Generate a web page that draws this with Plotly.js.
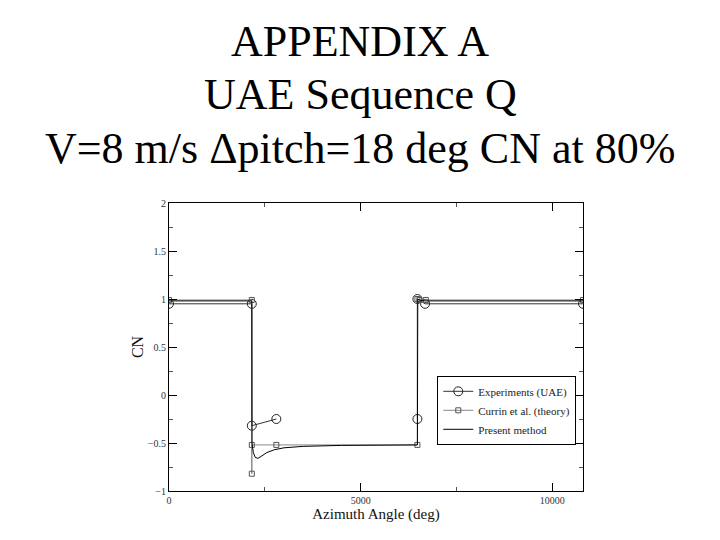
<!DOCTYPE html>
<html>
<head>
<meta charset="utf-8">
<script src="https://cdn.plot.ly/plotly-3.0.1.min.js"></script>
<style>
  html, body { margin: 0; padding: 0; background: #fff; }
  #chart { width: 720px; height: 540px; }
</style>
</head>
<body>
<div id="chart"></div>
<script>
// Experiments (UAE) - gap between the two branches
var expX = [0, 2160, 2160, 2800, null, 6480, 6480, 6680, 10800];
var expY = [0.95, 0.95, -0.32, -0.25, null, -0.25, 1.0, 0.95, 0.95];

// Currin et al. (theory)
var curX = [0, 2160, 2160, 2160, 2800, 6480, 6480, 6530, 6700, 10800];
var curY = [0.99, 0.99, -0.82, -0.52, -0.52, -0.52, 1.0, 0.99, 0.99, 0.99];

// Present method
var presX = [0, 2160, 2165, 2200, 2250, 2320, 2400, 2550, 2750, 3000, 3500, 4500, 6480, 6490, 6560, 6700, 10800];
var presY = [0.98, 0.98, -0.5, -0.6, -0.65, -0.66, -0.64, -0.6, -0.57, -0.55, -0.535, -0.525, -0.52, 1.0, 0.985, 0.98, 0.98];

var titleLines = ['APPENDIX A', 'UAE Sequence Q', 'V=8 m/s \u0394pitch=18 deg CN at 80%'];
var titleY = [1.5605, 1.3757, 1.1894];

var serif = "'Liberation Serif', 'Times New Roman', Times, serif";

var traces = [
    {
        x: expX, y: expY, name: 'Experiments (UAE)',
        mode: 'lines+markers',
        connectgaps: false,
        line: {color: '#333333', width: 1},
        marker: {symbol: 'circle-open', size: 9, color: '#222222', line: {width: 1}}
    },
    {
        x: curX, y: curY, name: 'Currin et al. (theory)',
        mode: 'lines+markers',
        line: {color: '#888888', width: 1},
        marker: {symbol: 'square-open', size: 5, color: '#555555', line: {width: 1}}
    },
    {
        x: presX, y: presY, name: 'Present method',
        mode: 'lines',
        line: {color: '#000000', width: 1}
    }
];

var annotations = titleLines.map(function (t, i) {
    return {
        text: t, showarrow: false,
        xref: 'paper', yref: 'paper',
        x: 0.4615, y: titleY[i], xanchor: 'center', yanchor: 'middle',
        font: {family: serif, size: 44, color: '#000'}
    };
});

var layout = {
    width: 720, height: 540,
    paper_bgcolor: '#ffffff', plot_bgcolor: '#ffffff',
    margin: {l: 169, r: 137, t: 203, b: 49},
    showlegend: true,
    legend: {
        x: 0.648, y: 0.40, xanchor: 'left', yanchor: 'top',
        bordercolor: '#000000', borderwidth: 1, bgcolor: '#ffffff',
        font: {family: serif, size: 11, color: '#222'},
        tracegroupgap: 0
    },
    annotations: annotations,
    xaxis: {
        range: [0, 10800],
        tickvals: [0, 5000, 10000],
        ticktext: ['0', '5000', '10000'],
        ticks: 'inside', ticklen: 8, tickcolor: '#000',
        minor: {dtick: 2500, ticks: 'inside', ticklen: 4, tickcolor: '#555'},
        showgrid: false, zeroline: false,
        showline: true, linecolor: '#000', linewidth: 1, mirror: 'ticks',
        tickfont: {family: serif, size: 10, color: '#333'},
        title: {text: 'Azimuth Angle (deg)', font: {family: serif, size: 15, color: '#111'}, standoff: 2}
    },
    yaxis: {
        range: [-1, 2],
        dtick: 0.5,
        ticks: 'inside', ticklen: 8, tickcolor: '#000',
        minor: {dtick: 0.25, ticks: 'inside', ticklen: 4, tickcolor: '#555'},
        showgrid: false, zeroline: false,
        showline: true, linecolor: '#000', linewidth: 1, mirror: 'ticks',
        tickfont: {family: serif, size: 10, color: '#333'},
        title: {text: 'CN', font: {family: serif, size: 16, color: '#111'}, standoff: 0}
    }
};

Plotly.newPlot('chart', traces, layout, {displayModeBar: false, staticPlot: true});
</script>
</body>
</html>
